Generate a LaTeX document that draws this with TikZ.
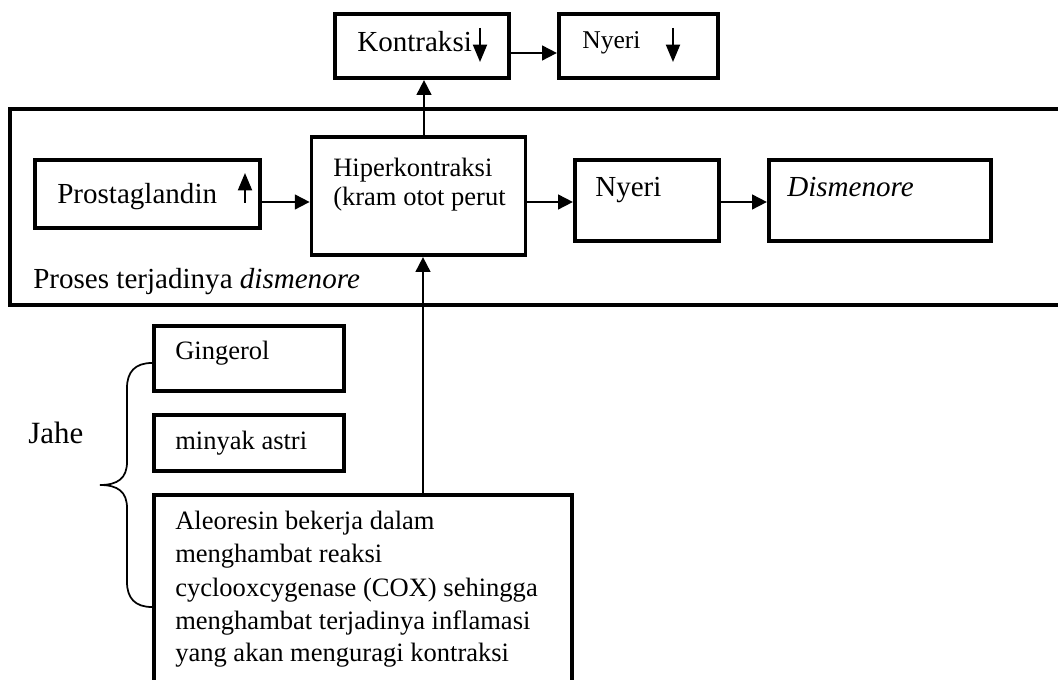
\documentclass[tikz,border=0pt]{standalone}
\usepackage{fontspec}
\setmainfont{Liberation Serif}
\usetikzlibrary{arrows.meta}
\newcommand\fszA{\fontsize{21.8pt}{25pt}\selectfont}
\newcommand\fszB{\fontsize{19.9pt}{24.75pt}\selectfont}
\newcommand\fszC{\fontsize{19.2pt}{23pt}\selectfont}
\newcommand\fszJ{\fontsize{23.2pt}{27pt}\selectfont}
\begin{document}
\begin{tikzpicture}[x=0.75pt,y=-0.75pt,
  bx/.style={draw, line width=2.8pt, inner sep=0pt},
  conn/.style={line width=1.4pt, -{Triangle[length=11pt,width=11pt]}},
  tinyarr/.style={line width=1.4pt, -{Triangle[length=13pt,width=10.5pt]}},
  txt/.style={anchor=base west, inner sep=0pt}]
\useasboundingbox (0,0) rectangle (1058,680);
\clip (0,0) rectangle (1058,680);
% boxes
\node[bx, minimum width=174.5*0.75pt, minimum height=64.5*0.75pt] (kon) at (422,46) {};
\node[bx, minimum width=159.5*0.75pt, minimum height=64.5*0.75pt] (nyA) at (638.5,46) {};
\node[bx, minimum width=1070*0.75pt, minimum height=196.5*0.75pt] (frame) at (545,207) {};
\node[bx, minimum width=225.5*0.75pt, minimum height=68.5*0.75pt] (pro) at (147.5,194) {};
\node[bx, minimum width=214*0.75pt, minimum height=118.5*0.75pt] (hip) at (418.5,196) {};
\node[bx, minimum width=144.5*0.75pt, minimum height=81.5*0.75pt] (nyB) at (647,200.5) {};
\node[bx, minimum width=222.5*0.75pt, minimum height=81.5*0.75pt] (dis) at (880,200.5) {};
\node[bx, minimum width=190.5*0.75pt, minimum height=65.5*0.75pt] (gin) at (249,358.5) {};
\node[bx, minimum width=190.5*0.75pt, minimum height=56.5*0.75pt] (min) at (249,443) {};
\node[bx, minimum width=418.5*0.75pt, minimum height=223.5*0.75pt] (ale) at (363,606.5) {};
% texts
\node[txt] (tkon) at (357,52) {\fszA Kontraksi};
\node[txt] (tnyA) at (582,49) {\fszC Nyeri};
\node[txt] (tpro) at (57,204) {\fszA Prostaglandin};
\node[txt] (thipA) at (333,177) {\fszB Hiperkontraksi};
\node[txt] (thipB) at (333,206) {\fszB (kram otot perut};
\node[txt] (tnyB) at (595,197) {\fszA Nyeri};
\node[txt] (tdis) at (787,197) {\fszA\itshape Dismenore};
\node[txt] (tpros) at (33,289) {\fszA Proses terjadinya \textit{dismenore}};
\node[txt] (tgin) at (175,360) {\fszB Gingerol};
\node[txt] (tmin) at (175,450) {\fszB minyak astri};
\node[txt] (tjahe) at (28,444) {\fszJ Jahe};
\node[txt] (taleA) at (175,530) {\fszB Aleoresin bekerja dalam};
\node[txt] (taleB) at (175,563) {\fszB menghambat reaksi};
\node[txt] (taleC) at (175,597) {\fszB cyclooxcygenase (COX) sehingga};
\node[txt] (taleD) at (175,630) {\fszB menghambat terjadinya inflamasi};
\node[txt] (taleE) at (175,662) {\fszB yang akan menguragi kontraksi};
% small in-text arrows
\draw[tinyarr] (480,28) -- (480,62);
\draw[tinyarr] (673,28) -- (673,62);
\draw[tinyarr] (245,203) -- (245,173);
% connectors
\coordinate (ymid) at (0,202);
\coordinate (ytop) at (0,53);
\coordinate (xk) at (424,0);
\coordinate (xa) at (423,0);
\draw[conn] (pro.east |- ymid) -- (hip.west |- ymid);
\draw[conn] (hip.east |- ymid) -- (nyB.west |- ymid);
\draw[conn] (nyB.east |- ymid) -- (dis.west |- ymid);
\draw[conn] (kon.east |- ytop) -- (nyA.west |- ytop);
\draw[conn] (hip.north -| xk) -- (kon.south -| xk);
\draw[conn] (ale.north -| xa) -- (hip.south -| xa);
% brace
\draw[line width=1.3pt] (gin.west |- 0,363) .. controls (135,363) and (127,372) .. (127,388)
  -- (127,462) .. controls (127,478) and (118,485) .. (100,485)
  .. controls (118,485) and (127,492) .. (127,508)
  -- (127,582) .. controls (127,598) and (135,607) .. (ale.west |- 0,607);
\end{tikzpicture}
\end{document}
